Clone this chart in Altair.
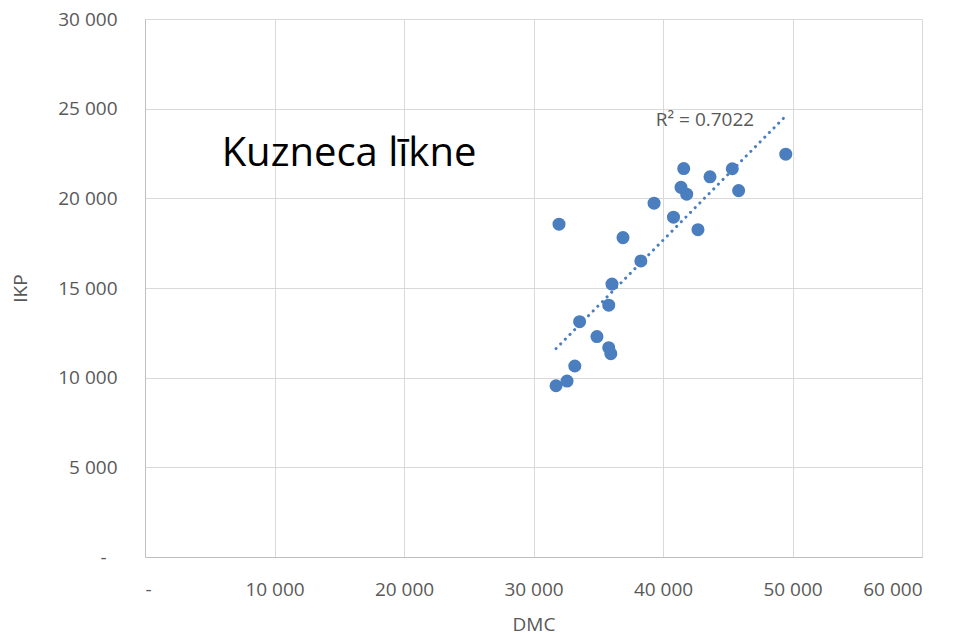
import altair as alt
import pandas as pd

dmc = [31970, 31740, 32590, 33190, 33560, 34900, 35810, 35970, 35810, 36060,
       36910, 38290, 39310, 40810, 41390, 41600, 41830, 42700, 43630, 45350,
       45840, 49480]
ikp = [18560, 9550, 9810, 10650, 13120, 12290, 11670, 11340, 14040, 15220,
       17810, 16510, 19730, 18950, 20610, 21660, 20230, 18250, 21200, 21650,
       20430, 22460]

df = pd.DataFrame({"DMC": dmc, "IKP": ikp})

label_expr = "datum.value == 0 ? '-' : replace(format(datum.value, ','), ',', ' ')"

x = alt.X("DMC:Q", scale=alt.Scale(domain=[0, 60000], nice=False),
          axis=alt.Axis(values=[0, 10000, 20000, 30000, 40000, 50000, 60000],
                        labelExpr=label_expr, title="DMC", grid=True,
                        ticks=False, labelPadding=23, titlePadding=16))
y = alt.Y("IKP:Q", scale=alt.Scale(domain=[0, 30000], nice=False),
          axis=alt.Axis(values=[0, 5000, 10000, 15000, 20000, 25000, 30000],
                        labelExpr=label_expr, title="IKP", grid=True,
                        ticks=False,
                        labelPadding={"condition": {"test": "datum.value == 0", "value": 39}, "value": 28},
                        titlePadding=27))

points = alt.Chart(df).mark_circle(size=170, opacity=1, color="#4A7EBE").encode(x=x, y=y)

trend = alt.Chart(df).transform_regression("DMC", "IKP").mark_line(
    color="#4A7EBE", strokeWidth=3, strokeDash=[0.1, 6.5], strokeCap="round"
).encode(x=x, y=y)

r2 = alt.Chart(pd.DataFrame({"t": ["R² = 0.7022"]})).mark_text(
    fontSize=19, color="#595959", font="Open Sans", align="center", baseline="alphabetic"
).encode(text="t:N", x=alt.value(560), y=alt.value(107))

title = alt.Chart(pd.DataFrame({"t": ["Kuzneca līkne"]})).mark_text(
    fontSize=40, color="#000000", font="Open Sans", align="center", baseline="alphabetic"
).encode(text="t:N", x=alt.value(204), y=alt.value(147))

chart = alt.layer(trend, points, r2, title).properties(
    width=777, height=538,
    autosize=alt.AutoSizeParams(type="none"),
    padding={"left": 137, "top": 11, "right": 27, "bottom": 80},
).configure_view(stroke=None).configure_axis(
    gridColor="#D9D9D9", gridWidth=1, domainColor="#BFBFBF", domainWidth=1,
    labelFont="Open Sans", labelFontSize=19, labelColor="#595959",
    titleFont="Open Sans", titleFontSize=19, titleColor="#595959",
    titleFontWeight="normal",
)

chart.save("out.html", embed_options={"renderer": "svg", "actions": False})
